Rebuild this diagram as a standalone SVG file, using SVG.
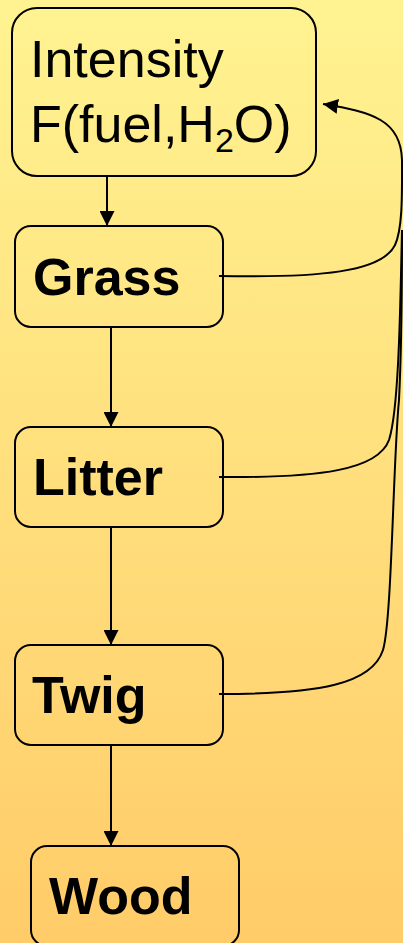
<svg xmlns="http://www.w3.org/2000/svg" width="403" height="943" viewBox="0 0 403 943">
  <defs>
    <linearGradient id="bg" x1="0" y1="0" x2="0" y2="1">
      <stop offset="0" stop-color="#FFF391"/>
      <stop offset="1" stop-color="#FFCC69"/>
    </linearGradient>
    <marker id="arrow" viewBox="0 0 15 15" refX="15" refY="7.5" markerWidth="15" markerHeight="15" markerUnits="userSpaceOnUse" orient="auto">
      <path d="M0,0 L15,7.5 L0,15 Z" fill="#000"/>
    </marker>
  </defs>
  <style>
    .box { fill: none; stroke: #000; stroke-width: 2; }
    .edge { fill: none; stroke: #000; stroke-width: 2; }
    .lbl { font-family: "Liberation Sans", Arial, sans-serif; font-size: 52px; fill: #000; }
    .bold { font-weight: bold; }
  </style>

  <rect x="0" y="0" width="403" height="943" fill="url(#bg)"/>

  <g id="connectors">
    <!-- downward chain -->
    <line class="edge" x1="107" y1="176" x2="107" y2="226" marker-end="url(#arrow)"/>
    <line class="edge" x1="111" y1="327" x2="111" y2="427" marker-end="url(#arrow)"/>
    <line class="edge" x1="111" y1="527" x2="111" y2="645" marker-end="url(#arrow)"/>
    <line class="edge" x1="111" y1="745" x2="111" y2="846" marker-end="url(#arrow)"/>
    <!-- feedback to Intensity -->
    <path class="edge" d="M219,276 C320,278 382,272 395,245 C403,228 402,190 402,160 C401,120 372,112 323,104" marker-end="url(#arrow)"/>
    <path class="edge" d="M219,477 C320,478 378,470 389,440 C398,412 400,330 402,230"/>
    <path class="edge" d="M219,694 C320,694 372,684 383,650 C392,620 393,460 399,400 C401,360 402,300 402,230"/>
  </g>

  <g id="intensity">
    <rect class="box" x="12" y="8" width="304" height="168" rx="25" ry="25"/>
    <text class="lbl" x="30" y="77">Intensity</text>
    <text class="lbl" x="30" y="142">F(fuel,H<tspan font-size="34" dy="10">2</tspan><tspan dy="-10">O)</tspan></text>
  </g>

  <g id="grass">
    <rect class="box" x="15" y="226" width="208" height="101" rx="16" ry="16"/>
    <text class="lbl bold" x="33" y="295">Grass</text>
  </g>

  <g id="litter">
    <rect class="box" x="15" y="427" width="208" height="100" rx="16" ry="16"/>
    <text class="lbl bold" x="33" y="495">Litter</text>
  </g>

  <g id="twig">
    <rect class="box" x="15" y="645" width="208" height="100" rx="16" ry="16"/>
    <text class="lbl bold" x="32" y="713">Twig</text>
  </g>

  <g id="wood">
    <rect class="box" x="31" y="846" width="208" height="100" rx="16" ry="16"/>
    <text class="lbl bold" x="49" y="914">Wood</text>
  </g>
</svg>
